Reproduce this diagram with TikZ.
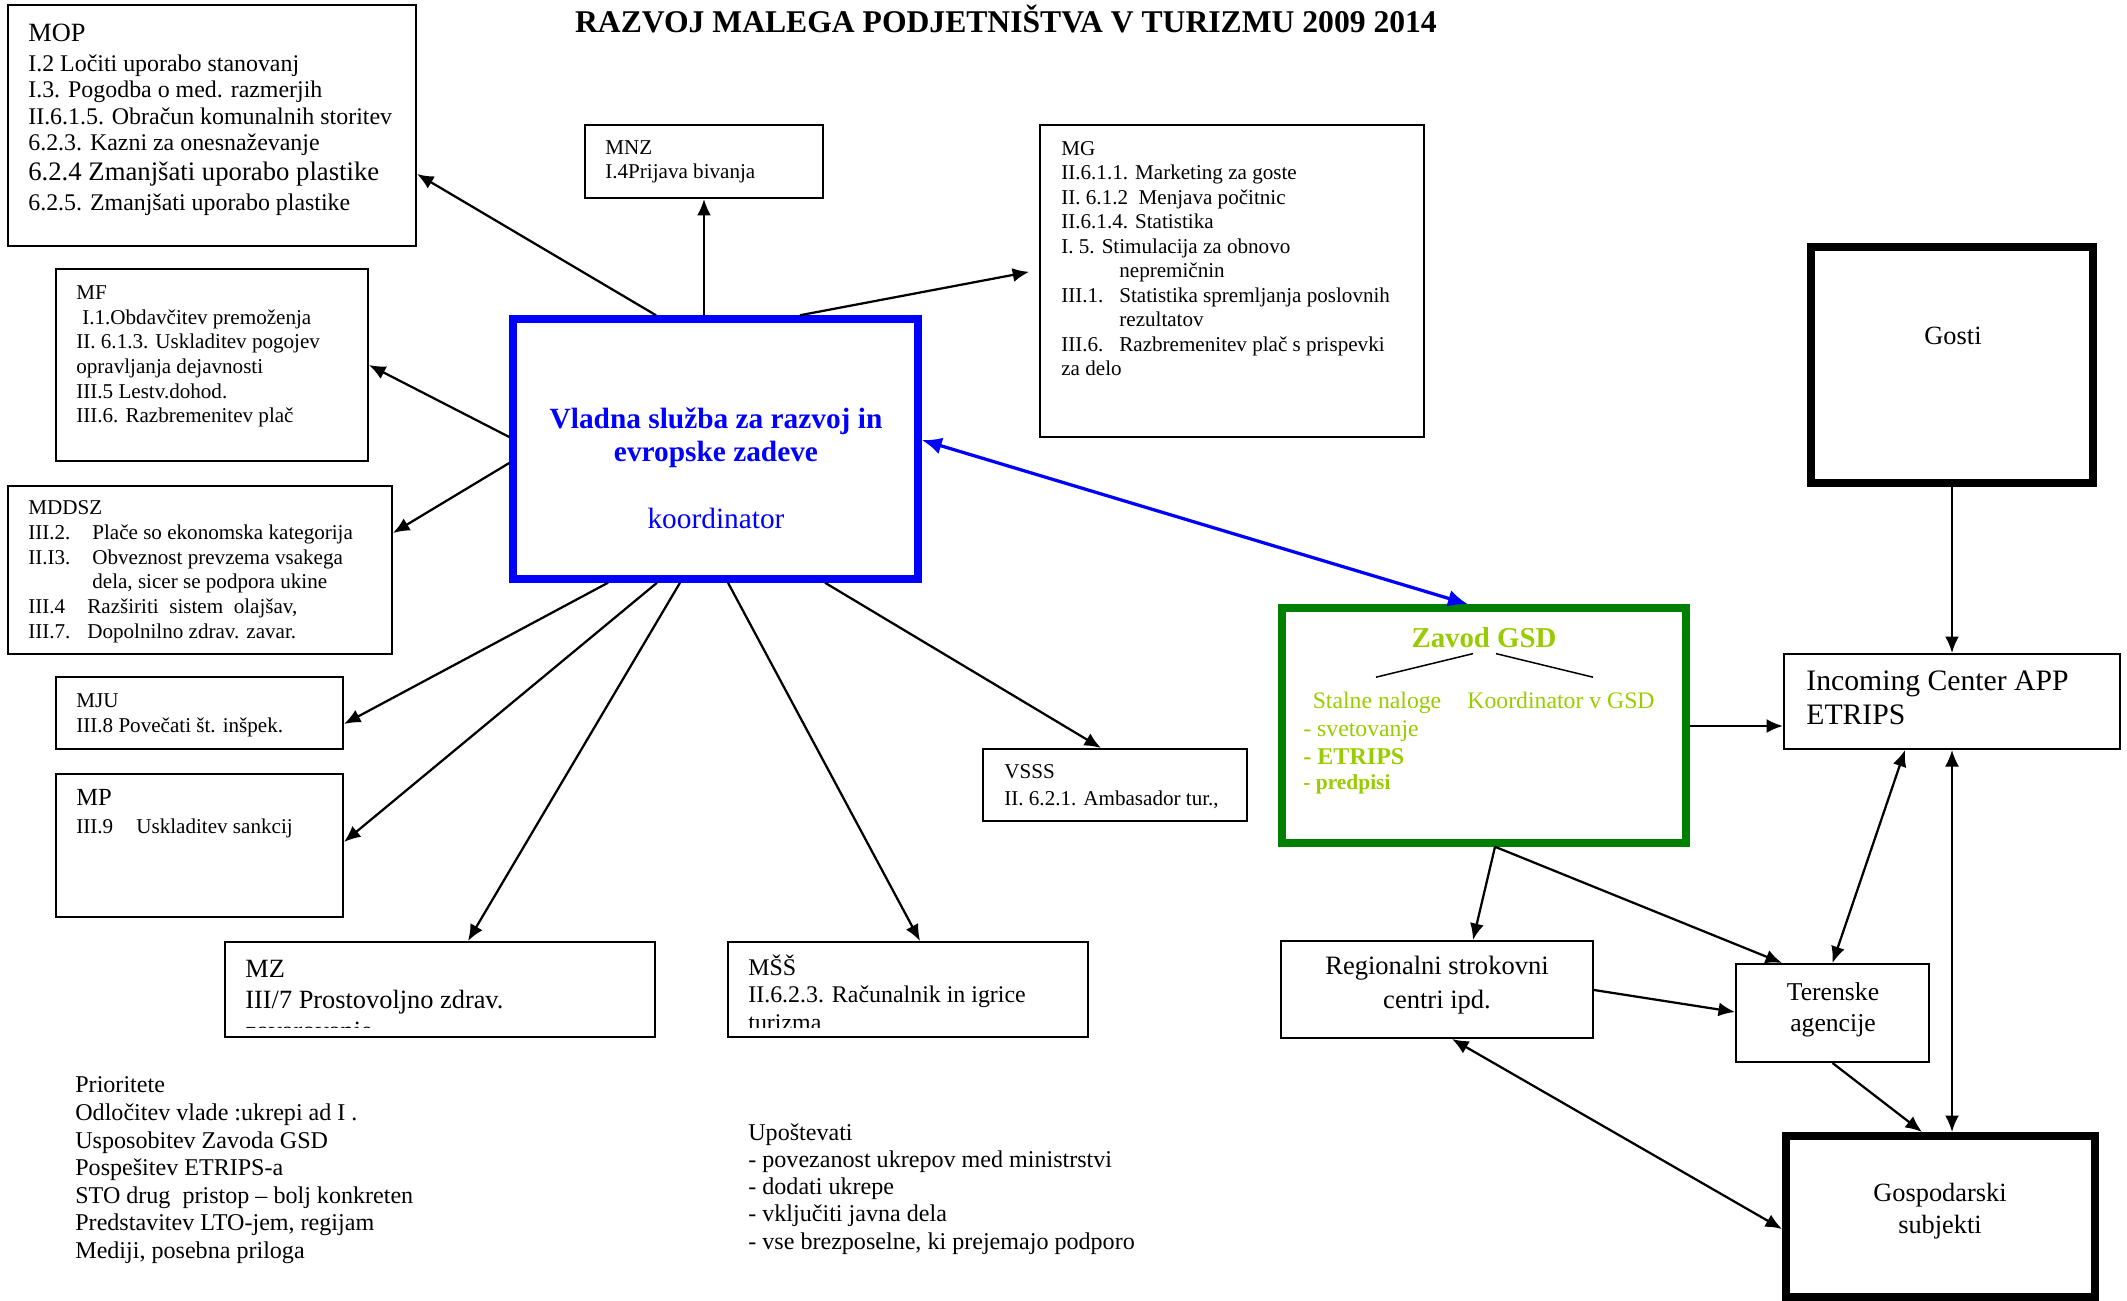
\documentclass[tikz,border=0pt]{standalone}
\usepackage{fontspec}
\setmainfont{Liberation Serif}
\usetikzlibrary{arrows.meta,fit,calc}
\definecolor{vsblue}{RGB}{0,0,255}
\definecolor{gsdgreen}{RGB}{0,128,0}
\definecolor{gsdtext}{RGB}{153,204,0}
\newcommand{\fsz}[2]{\fontsize{#1}{#2}\selectfont}
\tikzset{box/.style={draw, line width=.4mm, inner sep=0pt}}
\tikzset{heavybox/.style={draw, line width=1.6mm, inner sep=0pt}}
\tikzset{txt/.style={inner sep=0pt, anchor=base west, align=left}}
\tikzset{conn/.style={->, line width=.45mm}}

\begin{document}
\begin{tikzpicture}[x=.2mm, y=-.2mm, >={Latex[length=3.3mm,width=2.8mm]}]
  \useasboundingbox (0,0) rectangle (2127,1301);

  \node[txt, anchor=base, font=\fsz{18}{20}\bfseries] (title) at (1006,33)
  {RAZVOJ MALEGA PODJETNIŠTVA V TURIZMU 2009 2014};

  % ministrstva (text nodes sit on the baseline of their last line)
  \node[box, fit={(8,5) (416,246)}] (mop) {};
  \node[box, fit={(585,125) (823,198)}] (mnz) {};
  \node[box, fit={(1040,125) (1424,437)}] (mg) {};
  \node[box, fit={(56,269) (368,461)}] (mf) {};
  \node[box, fit={(8,486) (392,654)}] (mddsz) {};
  \node[box, fit={(56,677) (343,749)}] (mju) {};
  \node[box, fit={(56,774) (343,917)}] (mp) {};
  \node[box, fit={(225,942) (655,1037)}] (mz) {};
  \node[box, fit={(728,942) (1088,1037)}] (mss) {};
  \node[box, fit={(983,749) (1247,821)}] (vsss) {};

  \node[txt, font=\fsz{13.6}{14.8}] (moptxt) at (28,211)
  {{\fsz{15}{17}MOP}\\[2.3pt]
   I.2 Ločiti uporabo stanovanj\\
   I.3. Pogodba o med. razmerjih\\[.6pt]
   II.6.1.5. Obračun komunalnih storitev\\
   6.2.3. Kazni za onesnaževanje\\[2.3pt]
   {\fsz{15.2}{17}6.2.4 Zmanjšati uporabo plastike}\\[2.3pt]
   6.2.5. Zmanjšati uporabo plastike};
  \node[txt, font=\fsz{12}{13.7}] (mnztxt) at (605,179) {MNZ\\I.4Prijava bivanja};
  \node[txt, font=\fsz{12}{13.95}] (mgtxt) at (1061,376)
  {MG\\
   II.6.1.1. Marketing za goste\\
   II. 6.1.2\ \ Menjava počitnic\\
   II.6.1.4. Statistika\\
   I. 5. Stimulacija za obnovo\\
   \hspace*{11.6mm}nepremičnin\\
   \makebox[11.6mm][l]{III.1.}Statistika spremljanja poslovnih\\
   \hspace*{11.6mm}rezultatov\\
   \makebox[11.6mm][l]{III.6.}Razbremenitev plač s prispevki\\
   za delo};
  \node[txt, font=\fsz{12}{14.05}] (mftxt) at (76,423)
  {MF\\
   \hspace*{1.2mm}I.1.Obdavčitev premoženja\\
   II. 6.1.3. Uskladitev pogojev\\
   opravljanja dejavnosti\\
   III.5 Lestv.dohod.\\
   III.6. Razbremenitev plač};
  \node[txt, font=\fsz{12}{14}] (mddsztxt) at (28,638)
  {MDDSZ\\
   \makebox[12.8mm][l]{III.2.}Plače so ekonomska kategorija\\
   \makebox[12.8mm][l]{II.I3.}Obveznost prevzema vsakega\\
   \hspace*{12.8mm}dela, sicer se podpora ukine\\
   \makebox[11.8mm][l]{III.4}Razširiti\ \ sistem\ \ olajšav,\\
   \makebox[11.8mm][l]{III.7.}Dopolnilno zdrav. zavar.};
  \node[txt, font=\fsz{12}{14.2}] (mjutxt) at (76,732) {MJU\\III.8 Povečati št. inšpek.};
  \node[txt, font=\fsz{12}{15.4}] (mptxt) at (76,833)
  {{\fsz{14}{15}MP}\\\makebox[12mm][l]{III.9}Uskladitev sankcij};
  \node[txt, font=\fsz{12}{14.8}] (vssstxt) at (1004,805) {VSSS\\II. 6.2.1. Ambasador tur.,};
  \begin{scope}
    \clip (mz.north west) rectangle ([yshift=2.1mm]mss.south east);
    \node[txt, font=\fsz{15}{17.6}] (mztxt) at (245,1039)
    {MZ\\III/7 Prostovoljno zdrav.\\zavarovanje};
    \node[txt, font=\fsz{13.6}{15.4}] (msstxt) at (748,1030)
    {MŠŠ\\II.6.2.3. Računalnik in igrice\\turizma};
  \end{scope}

  % koordinator
  \node[heavybox, draw=vsblue, line width=1.5mm, fit={(513,319) (918,579)}] (vlada) {};
  \node[txt, anchor=base, align=center, font=\fsz{16.7}{18.8}, text=vsblue] (vladatxt) at (716,528)
  {\textbf{Vladna služba za razvoj in}\\\textbf{evropske zadeve}\\[18.8pt]koordinator};

  % Zavod GSD
  \node[heavybox, draw=gsdgreen, line width=1.5mm, fit={(1282,608) (1686,843)}] (zavod) {};
  \node[txt, anchor=base, font=\fsz{16.4}{18}\bfseries, text=gsdtext] (gsd) at (1484,647) {Zavod GSD};
  \node[txt, anchor=base, font=\fsz{13.5}{15}, text=gsdtext] (stalne) at (1377,708) {Stalne naloge};
  \node[txt, anchor=base, font=\fsz{13.5}{15}, text=gsdtext] (koord) at (1561,708) {Koordinator v GSD};
  \node[txt, font=\fsz{13.5}{15.9}, text=gsdtext] (naloge) at (1303,789)
  {- svetovanje\\{\fsz{13.7}{15}\bfseries - ETRIPS}\\[-1.7pt]{\fsz{12.2}{14}\bfseries - predpisi}};
  \draw[line width=.3mm] ($(gsd.south)+(-11,6)$) -- ($(stalne.north)+(-1,-14)$);
  \draw[line width=.3mm] ($(gsd.south)+(12,6)$) -- ($(koord.north)+(32,-14)$);

  % desna stran
  \node[heavybox, fit={(1811,247) (2093,483)}] (gosti) {};
  \node[txt, anchor=base, font=\fsz{15}{17}] (gostitxt) at (1953,345) {Gosti};
  \node[box, fit={(1784,654) (2120,749)}] (incoming) {};
  \node[txt, font=\fsz{16.9}{18.8}] (incomingtxt) at (1806,724) {Incoming Center APP\\ETRIPS};
  \node[box, fit={(1281,941) (1593,1038)}] (regional) {};
  \node[txt, anchor=base, align=center, font=\fsz{15.1}{18.8}] (regionaltxt) at (1437,1008)
  {Regionalni strokovni\\centri ipd.};
  \node[box, fit={(1736,964) (1929,1062)}] (terenske) {};
  \node[txt, anchor=base, align=center, font=\fsz{14.6}{17.6}] (terensketxt) at (1833,1031)
  {Terenske\\agencije};
  \node[heavybox, fit={(1786,1136) (2095,1297)}] (gosp) {};
  \node[txt, anchor=base, align=center, font=\fsz{15}{18.2}] (gosptxt) at (1940,1233)
  {Gospodarski\\subjekti};

  \draw[conn] (vlada.north -| 656,0) -- (mop.east |- 0,174);
  \draw[conn] (vlada.north -| mnz.south) -- (mnz.south);
  \draw[conn, shorten >=2mm] (vlada.north -| 800,0) -- (mg.west |- 0,270);
  \draw[conn] (vlada.west |- 0,437) -- (mf.east |- 0,365);
  \draw[conn] (vlada.west |- 0,463) -- (mddsz.east |- 0,533);
  \draw[conn] (vlada.south -| 608,0) -- (mju.east |- 0,724);
  \draw[conn] (vlada.south -| 657,0) -- (mp.east |- 0,842);
  \draw[conn] (vlada.south -| 680,0) -- (mz.north -| 468,0);
  \draw[conn] (vlada.south -| 728,0) -- (mss.north -| 920,0);
  \draw[conn] (vlada.south -| 825,0) -- (vsss.north -| 1101,0);

  \draw[<->, vsblue, line width=.65mm, >={Latex[length=4mm,width=3.4mm]}]
    (vlada.east |- 0,440) -- (zavod.north -| 1468,0);
  \draw[conn] (zavod.east |- 0,726) -- (incoming.west |- 0,726);
  \draw[conn] (gosti.south) -- (incoming.north);
  \draw[conn, <->] (incoming.south) -- (gosp.north -| incoming.south);
  \draw[conn, <->] (incoming.south -| 1905,0) -- (terenske.north);
  \draw[conn] (zavod.south -| 1495,0) -- (regional.north -| 1473,0);
  \draw[conn] (zavod.south -| 1495,0) -- (terenske.north -| 1782,0);
  \draw[conn] (regional.east |- 0,990) -- (terenske.west |- 0,1012);
  \draw[conn] (terenske.south) -- (gosp.north -| 1922,0);
  \draw[conn, <->] (regional.south -| 1452,0) -- (gosp.west |- 0,1229);

  % opombe
  \node[txt, font=\fsz{13.7}{15.65}] (prio) at (75,1258)
  {Prioritete\\
   Odločitev vlade :ukrepi ad I .\\
   Usposobitev Zavoda GSD\\
   Pospešitev ETRIPS-a\\
   STO drug\ \ pristop -- bolj konkreten\\
   Predstavitev LTO-jem, regijam\\
   Mediji, posebna priloga};
  \node[txt, font=\fsz{13.7}{15.5}] (upos) at (748,1249)
  {Upoštevati\\
   - povezanost ukrepov med ministrstvi\\
   - dodati ukrepe\\
   - vključiti javna dela\\
   - vse brezposelne, ki prejemajo podporo};
\end{tikzpicture}
\end{document}
